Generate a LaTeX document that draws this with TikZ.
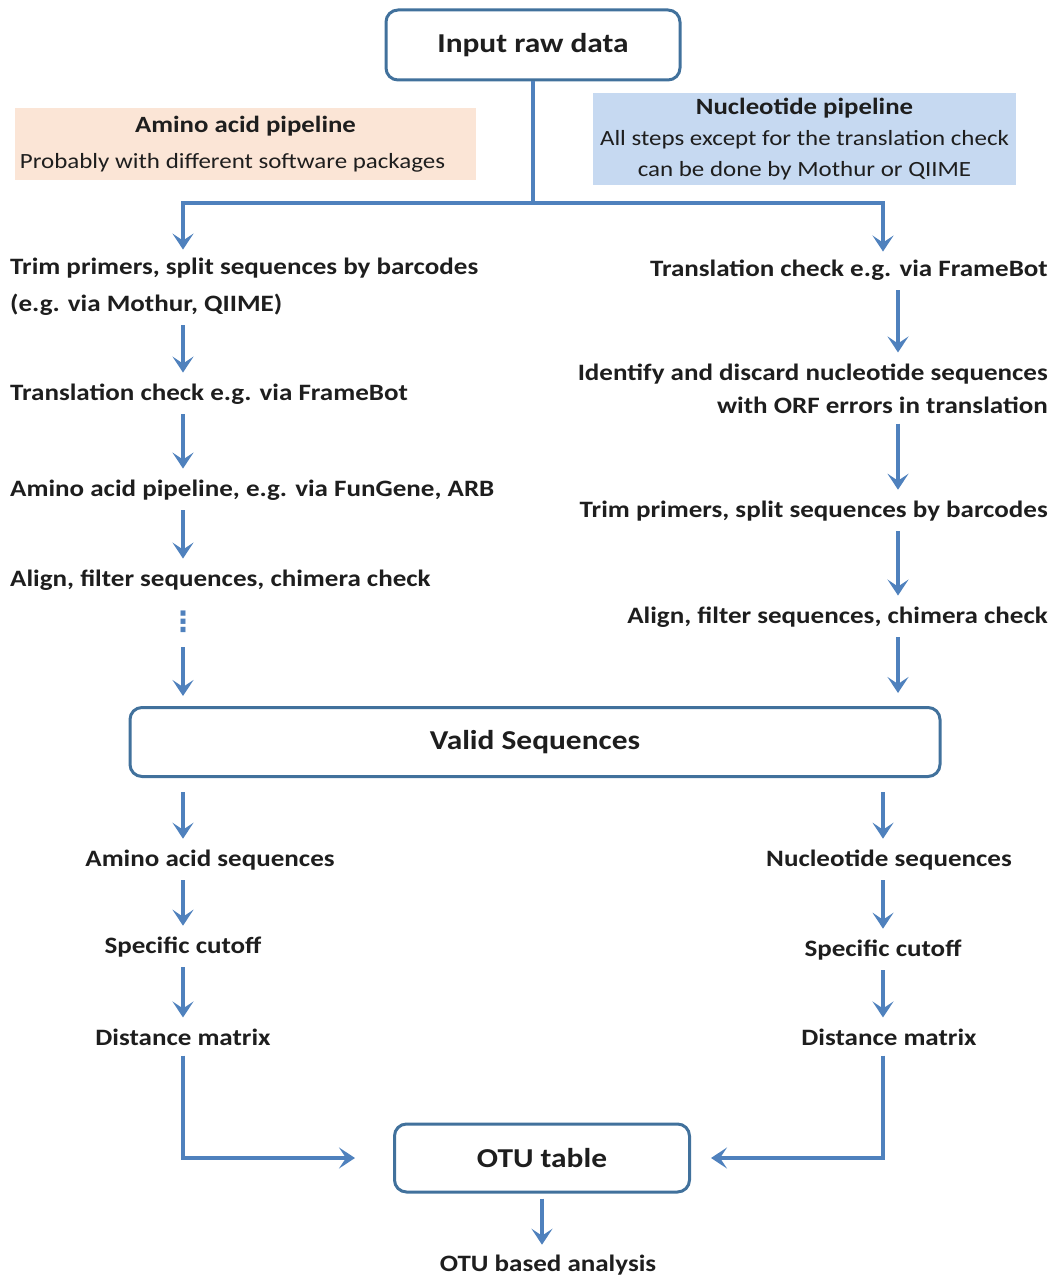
\documentclass[tikz,border=0pt]{standalone}
\usepackage{fontspec}
\setmainfont[FakeStretch=1.15]{Carlito}
\newfontfamily\dejavu{DejaVu Sans}
\usetikzlibrary{arrows.meta,calc}
\definecolor{arrowblue}{HTML}{4F81BD}
\definecolor{boxblue}{HTML}{41719C}
\definecolor{peach}{HTML}{FBE5D6}
\definecolor{lightblue}{HTML}{C6D9F1}
\definecolor{txt}{HTML}{1E1E1E}
\begin{document}
\begin{tikzpicture}[x=1pt,y=-1pt,
  flow/.style={draw=arrowblue, line width=4pt, -{Stealth[width=21pt,length=16pt,inset=7pt]}},
  plain/.style={draw=arrowblue, line width=4pt},
  mainbox/.style={draw=boxblue, line width=3pt, rounded corners=12pt, fill=white,
    font=\fontsize{27.3}{32}\selectfont\bfseries, text=txt},
  stepL/.style={anchor=west, font=\fontsize{23.5}{37}\selectfont\bfseries, text=txt, align=left, inner sep=0pt},
  stepR/.style={anchor=east, font=\fontsize{23.5}{33}\selectfont\bfseries, text=txt, align=right, inner sep=0pt},
  stepC/.style={font=\fontsize{23.5}{26}\selectfont\bfseries, text=txt, align=center, inner sep=0pt},
  label/.style={text=txt, align=center, inner sep=0pt}
]
\useasboundingbox (0,0) rectangle (1056,1281);

% main boxes
\node[mainbox, minimum width=294pt, minimum height=70pt] (input) at (533,45) {Input raw data};
\node[mainbox, minimum width=810pt, minimum height=69pt] (valid) at (535,742) {Valid Sequences};
\node[mainbox, minimum width=295pt, minimum height=68pt] (otu) at (542,1158) {OTU table};

% pipeline labels
\node[label, fill=peach, minimum width=461pt, minimum height=72pt, font=\fontsize{21.7}{36}\selectfont] (aalab) at (245.5,144)
  {{\fontsize{23.3}{36}\selectfont\bfseries Amino acid pipeline}\\\hspace*{-26pt}Probably with different software packages};
\node[label, fill=lightblue, minimum width=423pt, minimum height=92pt, font=\fontsize{21.7}{31}\selectfont] (ntlab) at (804.5,139)
  {{\fontsize{23.3}{31}\selectfont\bfseries Nucleotide pipeline}\\All steps except for the translation check\\can be done by Mothur or QIIME};

% column coordinates
\coordinate (split) at (533,203);
\coordinate (bl) at (183,203);
\coordinate (br) at (883,203);
\coordinate (cr) at (898,203);

% left column
\node[stepL] (trimL) at (10,286.5) {Trim primers, split sequences by barcodes\\(e.g. via Mothur, QIIME)};
\node[stepL] (transL) at (10,394) {Translation check e.g. via FrameBot};
\node[stepL] (aaL) at (10,490) {Amino acid pipeline, e.g. via FunGene, ARB};
\node[stepL] (alignL) at (10,580) {Align, filter sequences, chimera check};
\node[font=\dejavu\bfseries\fontsize{28}{28}\selectfont, text=arrowblue, inner sep=0pt] (dots) at (183,622) {⋮};

% right column
\node[stepR] (transR) at (1048,270) {Translation check e.g. via FrameBot};
\node[stepR] (identR) at (1048,388.5) {Identify and discard nucleotide sequences\\with ORF errors in translation};
\node[stepR] (trimR) at (1048,511) {Trim primers, split sequences by barcodes};
\node[stepR] (alignR) at (1048,617) {Align, filter sequences, chimera check};

% bottom
\node[stepC] (aaseq) at (210,860) {Amino acid sequences};
\node[stepC] (spcL) at (183,947) {Specific cutoff};
\node[stepC] (distL) at (183,1037) {Distance matrix};
\node[stepC] (ntseq) at (889,860) {Nucleotide sequences};
\node[stepC] (spcR) at (883,950) {Specific cutoff};
\node[stepC] (distR) at (889,1037) {Distance matrix};
\node[stepC] (ana) at (548,1265) {OTU based analysis};

% connectors
\draw[plain] (input.south) -- (split);
\draw[flow, shorten >=8pt] (split) -| (trimL.north -| bl);
\draw[flow, shorten >=8pt] (split) -| (transR.north -| br);

\draw[flow, shorten <=10pt, shorten >=11pt] (trimL.south -| bl) -- (transL.north -| bl);
\draw[flow, shorten <=10pt, shorten >=11pt] (transL.south -| bl) -- (aaL.north -| bl);
\draw[flow, shorten <=10pt, shorten >=11pt] (aaL.south -| bl) -- (alignL.north -| bl);
\draw[flow, shorten <=14pt, shorten >=10pt] (dots.south) -- (valid.north -| bl);

\draw[flow, shorten <=10pt, shorten >=11pt] (transR.south -| cr) -- (identR.north -| cr);
\draw[flow, shorten <=10pt, shorten >=11pt] (identR.south -| cr) -- (trimR.north -| cr);
\draw[flow, shorten <=10pt, shorten >=11pt] (trimR.south -| cr) -- (alignR.north -| cr);
\draw[flow, shorten <=10pt, shorten >=13pt] (alignR.south -| cr) -- (valid.north -| cr);

\draw[flow, shorten <=14pt, shorten >=11pt] (valid.south -| bl) -- (aaseq.north -| bl);
\draw[flow, shorten <=10pt, shorten >=11pt] (aaseq.south -| bl) -- (spcL.north -| bl);
\draw[flow, shorten <=10pt, shorten >=11pt] (spcL.south -| bl) -- (distL.north -| bl);
\draw[flow, shorten <=10pt, shorten >=38pt] (distL.south -| bl) |- (otu.west);

\draw[flow, shorten <=14pt, shorten >=11pt] (valid.south -| br) -- (ntseq.north -| br);
\draw[flow, shorten <=10pt, shorten >=11pt] (ntseq.south -| br) -- (spcR.north -| br);
\draw[flow, shorten <=10pt, shorten >=11pt] (spcR.south -| br) -- (distR.north -| br);
\draw[flow, shorten <=10pt, shorten >=20pt] (distR.south -| br) |- (otu.east);

\draw[flow, shorten <=5pt, shorten >=10pt] (otu.south) -- (ana.north -| otu.south);
\end{tikzpicture}
\end{document}
